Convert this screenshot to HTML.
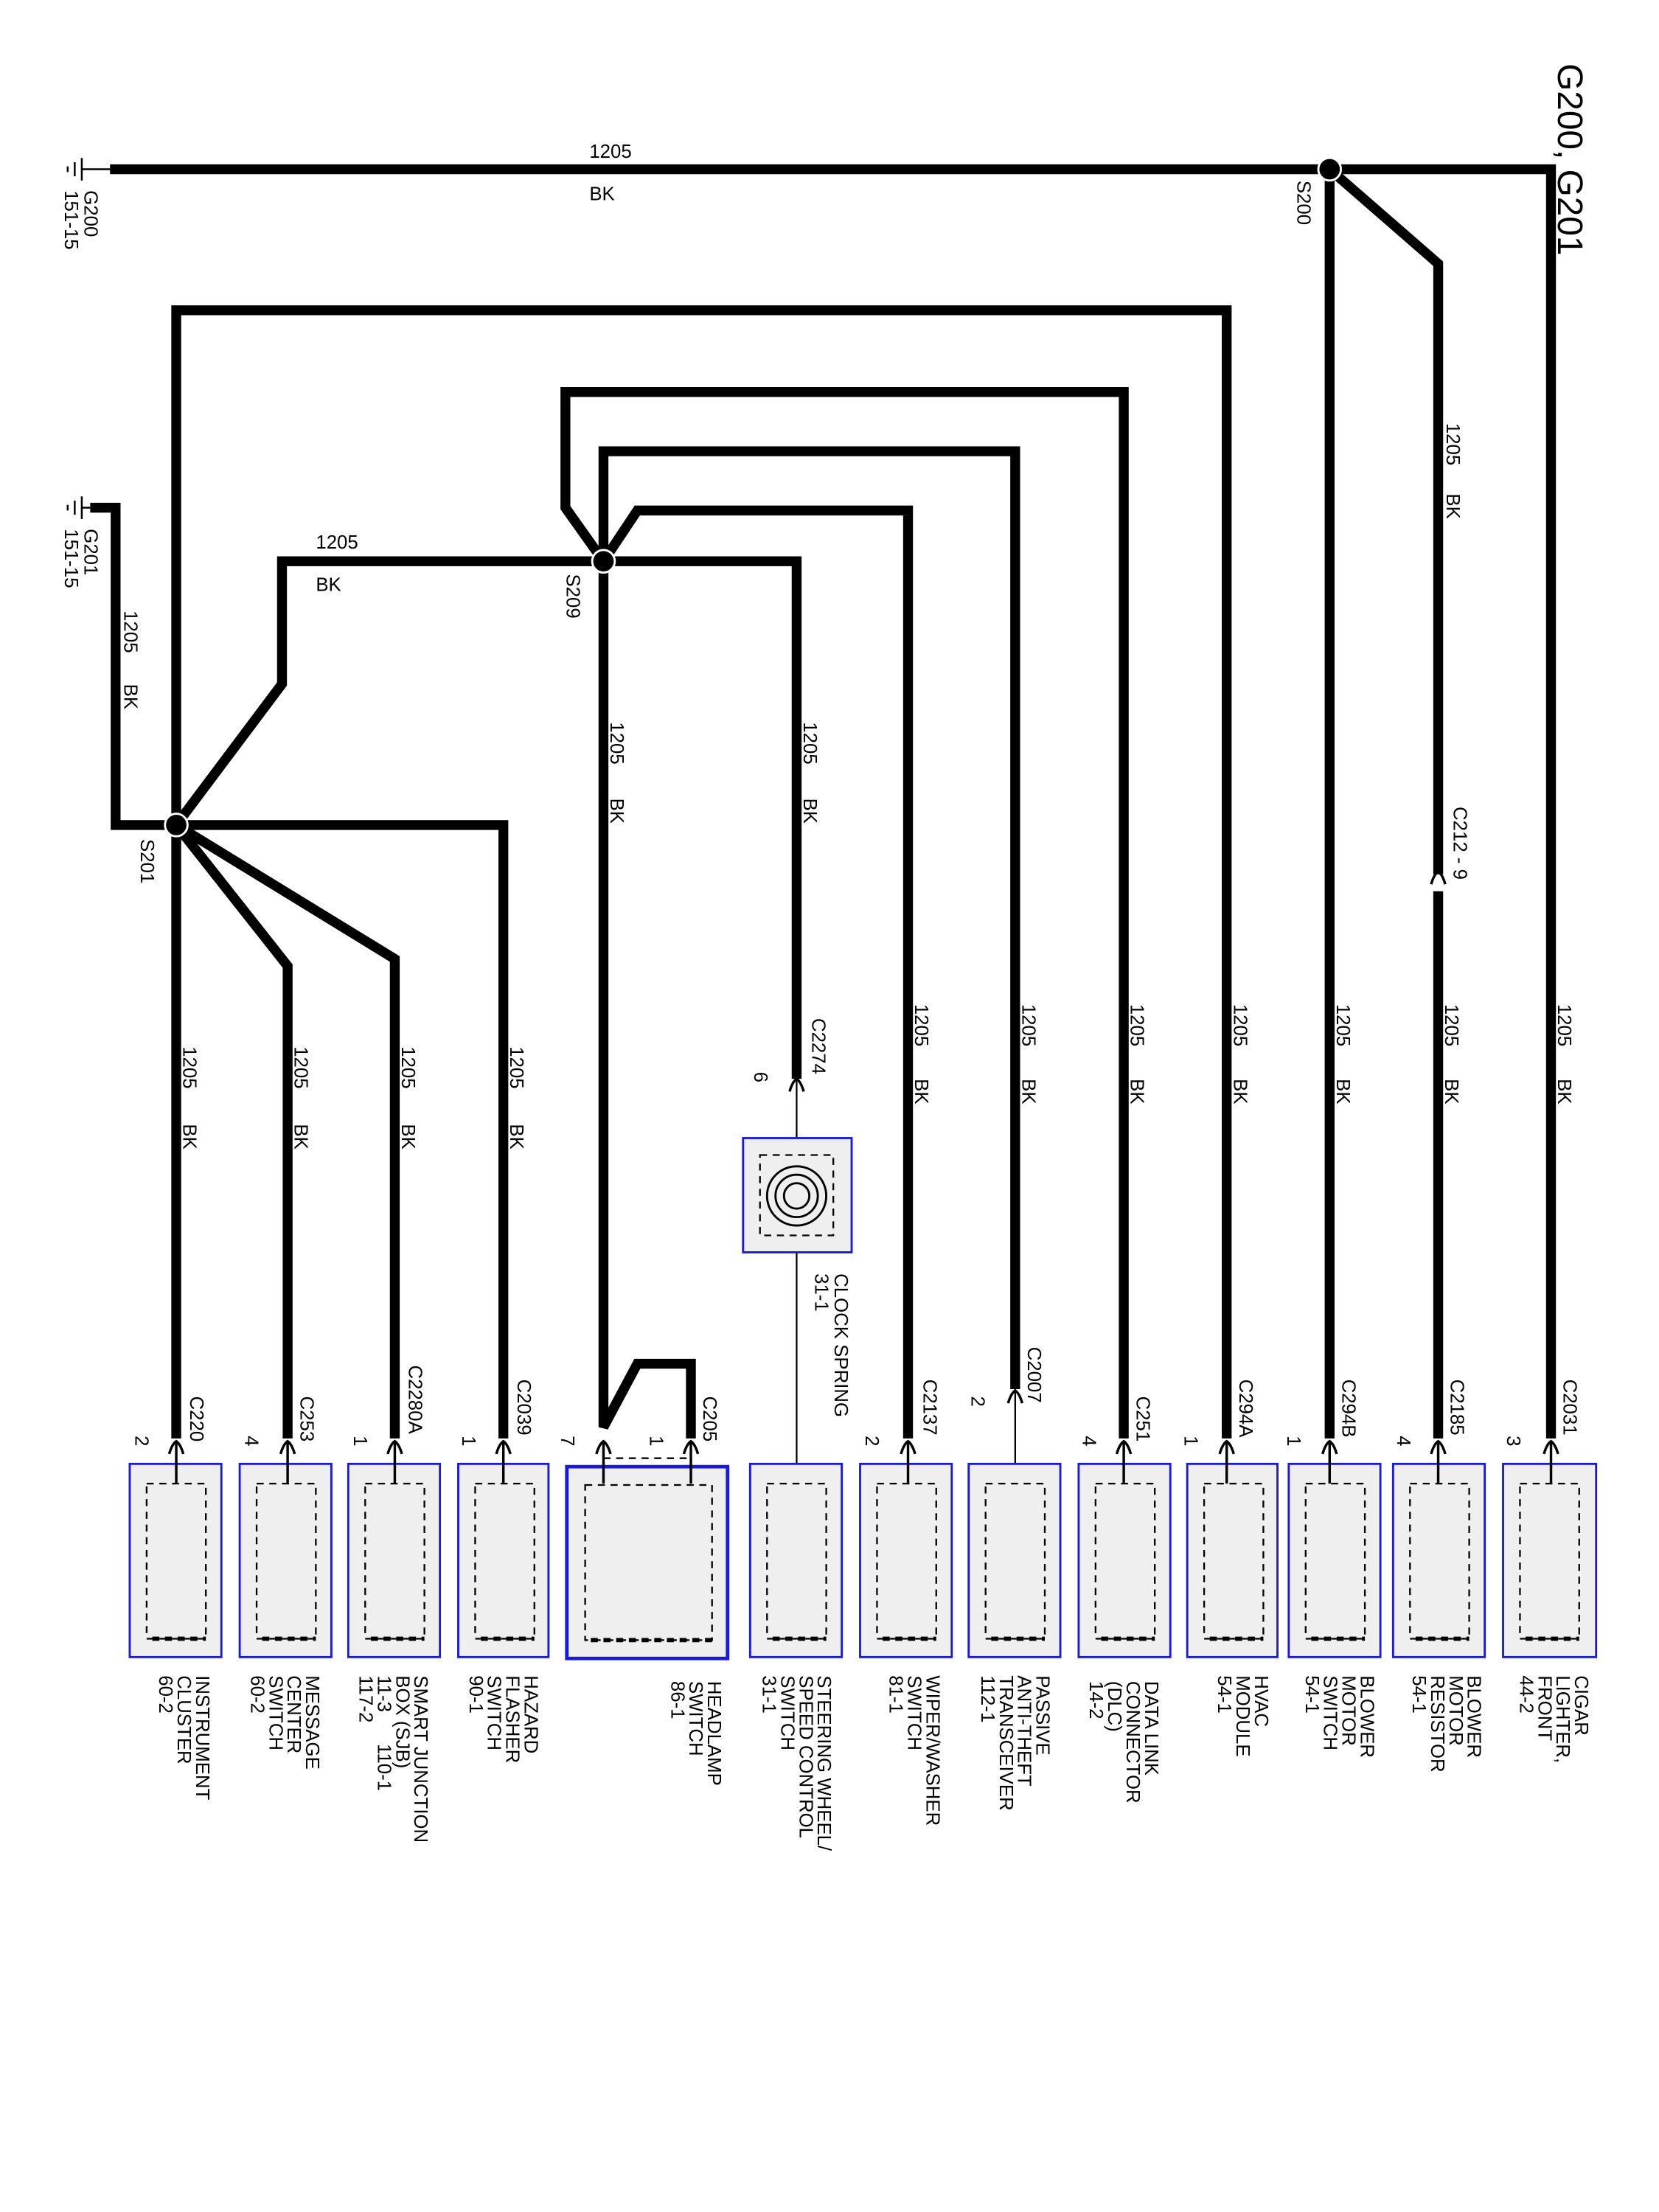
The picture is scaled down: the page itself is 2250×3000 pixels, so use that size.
<!DOCTYPE html>
<html><head><meta charset="utf-8"><style>
html,body{margin:0;padding:0;background:#fff;}
svg{display:block;}
text{font-family:"Liberation Sans",sans-serif;font-size:13.5px;fill:#000;}
</style></head><body>
<svg width="2250" height="3000" viewBox="0 0 1176.6 1568.5" preserveAspectRatio="none" xmlns="http://www.w3.org/2000/svg">
<g fill="none" stroke="#000" stroke-width="7" stroke-linejoin="miter" stroke-linecap="butt">
<polyline points="78,120 1100,120 1100,1020"/>
<polyline points="943,120 943,1020"/>
<polyline points="943,120 1020,187 1020,620"/>
<polyline points="1020,632 1020,1020"/>
<polyline points="125,1020 125,220 870,220 870,1020"/>
<polyline points="428,398 401,360 401,278 797,278 797,1020"/>
<polyline points="720,985 720,320 428,320 428,1012 452,967 490,967 490,1020"/>
<polyline points="428,398 452,362 644,362 644,1020"/>
<polyline points="125,585 200,485 200,398 565,398 565,765"/>
<polyline points="64,360 82,360 82,585 357,585 357,1020"/>
<polyline points="125,585 204,685 204,1020"/>
<polyline points="125,585 280,680 280,1020"/>
</g>
<g fill="#000" stroke="#fff" stroke-width="1.5">
<circle cx="943" cy="120" r="8"/><circle cx="428" cy="398" r="8"/><circle cx="125" cy="585" r="8"/>
</g>
<g stroke="#000" stroke-width="1.2" fill="none">
<line x1="565" y1="765" x2="565" y2="1052"/>
<line x1="720" y1="985" x2="720" y2="1052"/>
</g>
<g stroke="#000" stroke-width="1.3">
<line x1="58" y1="120" x2="78" y2="120"/><line x1="58" y1="112" x2="58" y2="128"/><line x1="53" y1="115" x2="53" y2="125"/><line x1="48" y1="118" x2="48" y2="122"/>
<line x1="58" y1="360" x2="64" y2="360"/><line x1="58" y1="352" x2="58" y2="368"/><line x1="53" y1="355" x2="53" y2="365"/><line x1="48" y1="358" x2="48" y2="362"/>
</g>
<g stroke="#1a1adc" stroke-width="1.5" fill="#efefef">
<rect x="92" y="1038" width="65" height="137"/>
<rect x="170" y="1038" width="65" height="137"/>
<rect x="247" y="1038" width="65" height="137"/>
<rect x="325" y="1038" width="64" height="137"/>
<rect x="402" y="1040" width="114" height="136" stroke-width="2.5"/>
<rect x="532" y="1038" width="65" height="137"/>
<rect x="610" y="1038" width="65" height="137"/>
<rect x="687" y="1038" width="65" height="137"/>
<rect x="765" y="1038" width="65" height="137"/>
<rect x="842" y="1038" width="64" height="137"/>
<rect x="914" y="1038" width="65" height="137"/>
<rect x="988" y="1038" width="65" height="137"/>
<rect x="1066" y="1038" width="66" height="137"/>
<rect x="527" y="807" width="77" height="81"/>
</g>
<g stroke="#000" stroke-width="1.2" fill="none" stroke-dasharray="5,4">
<rect x="104" y="1052" width="42" height="110"/>
<rect x="182" y="1052" width="42" height="110"/>
<rect x="259" y="1052" width="42" height="110"/>
<rect x="337" y="1052" width="42" height="110"/>
<rect x="415" y="1053" width="90" height="110"/>
<rect x="544" y="1052" width="42" height="110"/>
<rect x="622" y="1052" width="42" height="110"/>
<rect x="699" y="1052" width="42" height="110"/>
<rect x="777" y="1052" width="42" height="110"/>
<rect x="854" y="1052" width="42" height="110"/>
<rect x="926" y="1052" width="42" height="110"/>
<rect x="1000" y="1052" width="42" height="110"/>
<rect x="1078" y="1052" width="42" height="110"/>
<rect x="539" y="819" width="52" height="57"/>
<line x1="428" y1="1034" x2="490" y2="1034"/>
</g>
<g stroke="#000" stroke-width="3" fill="none" stroke-dasharray="5,4">
<line x1="108" y1="1162" x2="146" y2="1162"/><line x1="186" y1="1162" x2="224" y2="1162"/>
<line x1="263" y1="1162" x2="301" y2="1162"/><line x1="341" y1="1162" x2="379" y2="1162"/>
<line x1="419" y1="1163" x2="505" y2="1163"/><line x1="548" y1="1162" x2="586" y2="1162"/>
<line x1="626" y1="1162" x2="664" y2="1162"/><line x1="703" y1="1162" x2="741" y2="1162"/>
<line x1="781" y1="1162" x2="819" y2="1162"/><line x1="858" y1="1162" x2="896" y2="1162"/>
<line x1="930" y1="1162" x2="968" y2="1162"/><line x1="1004" y1="1162" x2="1042" y2="1162"/>
<line x1="1082" y1="1162" x2="1120" y2="1162"/>
</g>
<g stroke="#000" stroke-width="1.5" fill="none">
<circle cx="565" cy="848" r="21"/><circle cx="565" cy="848" r="15"/><circle cx="565" cy="848" r="9"/>
</g>
<g stroke="#000" stroke-width="1.8" fill="none">
<path d="M120,1031 Q122,1024 125,1022 Q128,1024 130,1031 M125,1022 V1052"/>
<path d="M199,1031 Q201,1024 204,1022 Q207,1024 209,1031 M204,1022 V1052"/>
<path d="M275,1031 Q277,1024 280,1022 Q283,1024 285,1031 M280,1022 V1052"/>
<path d="M352,1031 Q354,1024 357,1022 Q360,1024 362,1031 M357,1022 V1052"/>
<path d="M423,1031 Q425,1024 428,1022 Q431,1024 433,1031 M428,1022 V1052"/>
<path d="M485,1031 Q487,1024 490,1022 Q493,1024 495,1031 M490,1022 V1052"/>
<path d="M639,1031 Q641,1024 644,1022 Q647,1024 649,1031 M644,1022 V1052"/>
<path d="M715,995 Q717,988 720,986 Q723,988 725,995"/>
<path d="M792,1031 Q794,1024 797,1022 Q800,1024 802,1031 M797,1022 V1052"/>
<path d="M865,1031 Q867,1024 870,1022 Q873,1024 875,1031 M870,1022 V1052"/>
<path d="M938,1031 Q940,1024 943,1022 Q946,1024 948,1031 M943,1022 V1052"/>
<path d="M1015,1031 Q1017,1024 1020,1022 Q1023,1024 1025,1031 M1020,1022 V1052"/>
<path d="M1095,1031 Q1097,1024 1100,1022 Q1103,1024 1105,1031 M1100,1022 V1052"/>
<path d="M560,774 Q562,767 565,765 Q568,767 570,774"/>
<path d="M1015,627 Q1017,620 1020,618 Q1023,620 1025,627"/>
</g>
<text x="418" y="112">1205</text><text x="418" y="142">BK</text>
<text x="224" y="389">1205</text><text x="224" y="419">BK</text>
<g>
<text transform="translate(1105,45) rotate(90)" style="font-size:25px">G200, G201</text>
<text transform="translate(60,135) rotate(90)">G200</text>
<text transform="translate(46,135) rotate(90)">151-15</text>
<text transform="translate(60,375) rotate(90)">G201</text>
<text transform="translate(46,375) rotate(90)">151-15</text>
<text transform="translate(920,128) rotate(90)">S200</text>
<text transform="translate(402,407) rotate(90)">S209</text>
<text transform="translate(100,595) rotate(90)">S201</text>
<text transform="translate(1031,572) rotate(90)">C212 - 9</text>
<text transform="translate(88,433) rotate(90)">1205</text><text transform="translate(88,485) rotate(90)">BK</text>
<text transform="translate(1026,300) rotate(90)">1205</text><text transform="translate(1026,350) rotate(90)">BK</text>
<text transform="translate(433,512) rotate(90)">1205</text><text transform="translate(433,566) rotate(90)">BK</text>
<text transform="translate(570,512) rotate(90)">1205</text><text transform="translate(570,566) rotate(90)">BK</text>
<text transform="translate(130,742) rotate(90)">1205</text><text transform="translate(130,797) rotate(90)">BK</text>
<text transform="translate(209,742) rotate(90)">1205</text><text transform="translate(209,797) rotate(90)">BK</text>
<text transform="translate(285,742) rotate(90)">1205</text><text transform="translate(285,797) rotate(90)">BK</text>
<text transform="translate(362,742) rotate(90)">1205</text><text transform="translate(362,797) rotate(90)">BK</text>
<text transform="translate(649,712) rotate(90)">1205</text><text transform="translate(649,765) rotate(90)">BK</text>
<text transform="translate(725,712) rotate(90)">1205</text><text transform="translate(725,765) rotate(90)">BK</text>
<text transform="translate(802,712) rotate(90)">1205</text><text transform="translate(802,765) rotate(90)">BK</text>
<text transform="translate(875,712) rotate(90)">1205</text><text transform="translate(875,765) rotate(90)">BK</text>
<text transform="translate(948,712) rotate(90)">1205</text><text transform="translate(948,765) rotate(90)">BK</text>
<text transform="translate(1025,712) rotate(90)">1205</text><text transform="translate(1025,765) rotate(90)">BK</text>
<text transform="translate(1105,712) rotate(90)">1205</text><text transform="translate(1105,765) rotate(90)">BK</text>
<text transform="translate(135,990) rotate(90)">C220</text><text transform="translate(96,1018) rotate(90)">2</text>
<text transform="translate(213,990) rotate(90)">C253</text><text transform="translate(174,1018) rotate(90)">4</text>
<text transform="translate(290,968) rotate(90)">C2280A</text><text transform="translate(251,1018) rotate(90)">1</text>
<text transform="translate(367,978) rotate(90)">C2039</text><text transform="translate(328,1018) rotate(90)">1</text>
<text transform="translate(499,990) rotate(90)">C205</text><text transform="translate(398,1018) rotate(90)">7</text><text transform="translate(461,1018) rotate(90)">1</text>
<text transform="translate(576,722) rotate(90)">C2274</text><text transform="translate(535,760) rotate(90)">6</text>
<text transform="translate(592,903) rotate(90)">CLOCK SPRING</text><text transform="translate(578,903) rotate(90)">31-1</text>
<text transform="translate(655,978) rotate(90)">C2137</text><text transform="translate(614,1018) rotate(90)">2</text>
<text transform="translate(729,955) rotate(90)">C2007</text><text transform="translate(689,990) rotate(90)">2</text>
<text transform="translate(806,990) rotate(90)">C251</text><text transform="translate(768,1018) rotate(90)">4</text>
<text transform="translate(879,978) rotate(90)">C294A</text><text transform="translate(840,1018) rotate(90)">1</text>
<text transform="translate(952,978) rotate(90)">C294B</text><text transform="translate(913,1018) rotate(90)">1</text>
<text transform="translate(1029,978) rotate(90)">C2185</text><text transform="translate(991,1018) rotate(90)">4</text>
<text transform="translate(1109,978) rotate(90)">C2031</text><text transform="translate(1069,1018) rotate(90)">3</text>
</g>
<g>
<text transform="translate(139,1188) rotate(90)"><tspan x="0" dy="0">INSTRUMENT</tspan><tspan x="0" dy="13">CLUSTER</tspan><tspan x="0" dy="13">60-2</tspan></text>
<text transform="translate(217,1188) rotate(90)"><tspan x="0" dy="0">MESSAGE</tspan><tspan x="0" dy="13">CENTER</tspan><tspan x="0" dy="13">SWITCH</tspan><tspan x="0" dy="13">60-2</tspan></text>
<text transform="translate(294,1188) rotate(90)"><tspan x="0" dy="0">SMART JUNCTION</tspan><tspan x="0" dy="13">BOX (SJB)</tspan><tspan x="0" dy="13" xml:space="preserve">11-3      110-1</tspan><tspan x="0" dy="13">117-2</tspan></text>
<text transform="translate(372,1188) rotate(90)"><tspan x="0" dy="0">HAZARD</tspan><tspan x="0" dy="13">FLASHER</tspan><tspan x="0" dy="13">SWITCH</tspan><tspan x="0" dy="13">90-1</tspan></text>
<text transform="translate(502,1192) rotate(90)"><tspan x="0" dy="0">HEADLAMP</tspan><tspan x="0" dy="13">SWITCH</tspan><tspan x="0" dy="13">86-1</tspan></text>
<text transform="translate(580,1188) rotate(90)"><tspan x="0" dy="0">STEERING WHEEL/</tspan><tspan x="0" dy="13">SPEED CONTROL</tspan><tspan x="0" dy="13">SWITCH</tspan><tspan x="0" dy="13">31-1</tspan></text>
<text transform="translate(657,1188) rotate(90)"><tspan x="0" dy="0">WIPER/WASHER</tspan><tspan x="0" dy="13">SWITCH</tspan><tspan x="0" dy="13">81-1</tspan></text>
<text transform="translate(735,1188) rotate(90)"><tspan x="0" dy="0">PASSIVE</tspan><tspan x="0" dy="13">ANTI-THEFT</tspan><tspan x="0" dy="13">TRANSCEIVER</tspan><tspan x="0" dy="13">112-1</tspan></text>
<text transform="translate(812,1192) rotate(90)"><tspan x="0" dy="0">DATA LINK</tspan><tspan x="0" dy="13">CONNECTOR</tspan><tspan x="0" dy="13">(DLC)</tspan><tspan x="0" dy="13">14-2</tspan></text>
<text transform="translate(890,1188) rotate(90)"><tspan x="0" dy="0">HVAC</tspan><tspan x="0" dy="13">MODULE</tspan><tspan x="0" dy="13">54-1</tspan></text>
<text transform="translate(965,1188) rotate(90)"><tspan x="0" dy="0">BLOWER</tspan><tspan x="0" dy="13">MOTOR</tspan><tspan x="0" dy="13">SWITCH</tspan><tspan x="0" dy="13">54-1</tspan></text>
<text transform="translate(1041,1188) rotate(90)"><tspan x="0" dy="0">BLOWER</tspan><tspan x="0" dy="13">MOTOR</tspan><tspan x="0" dy="13">RESISTOR</tspan><tspan x="0" dy="13">54-1</tspan></text>
<text transform="translate(1117,1188) rotate(90)"><tspan x="0" dy="0">CIGAR</tspan><tspan x="0" dy="13">LIGHTER,</tspan><tspan x="0" dy="13">FRONT</tspan><tspan x="0" dy="13">44-2</tspan></text>
</g>
</svg>
</body></html>
